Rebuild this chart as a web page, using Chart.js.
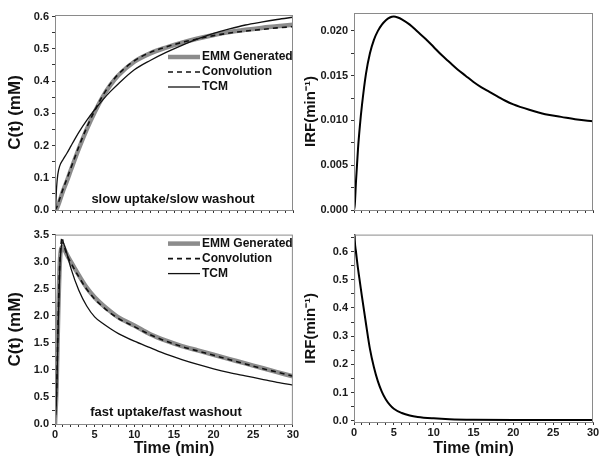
<!DOCTYPE html>
<html>
<head>
<meta charset="utf-8">
<script src="https://cdn.jsdelivr.net/npm/chart.js@4.4.1/dist/chart.umd.min.js"></script>
<style>
  body { margin: 0; background: #fff; }
  #wrap { position: relative; width: 604px; height: 469px; }
  canvas { position: absolute; }
</style>
</head>
<body>
<div id="wrap">
  <canvas id="c1" width="300" height="225" style="left:0;top:0"></canvas>
  <canvas id="c2" width="304" height="225" style="left:300px;top:0"></canvas>
  <canvas id="c3" width="300" height="244" style="left:0;top:225px"></canvas>
  <canvas id="c4" width="304" height="244" style="left:300px;top:225px"></canvas>
</div>
<script>
// slow uptake / slow washout
const tSlow = [0, 0.25, 0.5, 1, 1.5, 2, 3, 4, 5, 6, 7, 8, 10, 12, 14, 16, 18, 20, 22, 24, 26, 28, 30];
const emmSlow = [0, 0.006, 0.022, 0.058, 0.09, 0.124, 0.19, 0.25, 0.303, 0.35, 0.388, 0.418, 0.46, 0.486, 0.504, 0.519, 0.532, 0.543, 0.552, 0.559, 0.565, 0.57, 0.575];
const convSlow = [0, 0.01, 0.028, 0.064, 0.097, 0.13, 0.196, 0.256, 0.308, 0.354, 0.392, 0.422, 0.463, 0.489, 0.506, 0.52, 0.531, 0.541, 0.549, 0.555, 0.56, 0.565, 0.569];
const tTcmSlow = [0, 0.1, 0.2, 0.35, 0.6, 1, 1.5, 2, 2.5, 3, 4, 5, 6, 7, 8, 10, 12, 14, 16, 18, 20, 22, 24, 26, 28, 30];
const tcmSlow = [0, 0.02, 0.07, 0.11, 0.137, 0.156, 0.176, 0.198, 0.22, 0.241, 0.278, 0.311, 0.341, 0.368, 0.392, 0.435, 0.464, 0.489, 0.511, 0.531, 0.548, 0.562, 0.574, 0.583, 0.591, 0.598];
const tIrfSlow = [0, 0.1, 0.25, 0.5, 0.75, 1, 1.5, 2, 2.5, 3, 3.5, 4, 4.5, 5, 5.5, 6, 7, 8, 9, 10, 11, 12, 13, 14, 15, 16, 17, 18, 19, 20, 22, 24, 26, 28, 30];
const irfSlow = [0, 0.0006, 0.0032, 0.0068, 0.0095, 0.0117, 0.0152, 0.0175, 0.019, 0.02, 0.0207, 0.0212, 0.0215, 0.0216, 0.0215, 0.0213, 0.0207, 0.0199, 0.0191, 0.0182, 0.0173, 0.0165, 0.0157, 0.015, 0.0143, 0.0137, 0.0132, 0.0127, 0.0122, 0.0118, 0.0112, 0.0107, 0.0104, 0.0101, 0.0099];

// fast uptake / fast washout
const tFast = [0, 0.2, 0.4, 0.6, 0.8, 1, 1.2, 1.5, 2, 3, 4, 5, 6, 7, 8, 10, 12, 14, 16, 18, 20, 22, 24, 26, 28, 30];
const emmFast = [0, 0.7, 2.0, 2.95, 3.25, 3.27, 3.22, 3.13, 3.0, 2.75, 2.52, 2.34, 2.2, 2.08, 1.97, 1.82, 1.66, 1.54, 1.44, 1.36, 1.28, 1.2, 1.12, 1.04, 0.96, 0.88];
const tConvFast = [0, 0.2, 0.4, 0.6, 0.8, 0.9, 1, 1.2, 1.5, 2, 3, 4, 5, 6, 7, 8, 10, 12, 14, 16, 18, 20, 22, 24, 26, 28, 30];
const convFast = [0, 0.6, 1.95, 2.95, 3.38, 3.45, 3.38, 3.26, 3.13, 2.98, 2.72, 2.49, 2.31, 2.17, 2.05, 1.95, 1.8, 1.65, 1.53, 1.43, 1.35, 1.27, 1.19, 1.11, 1.03, 0.96, 0.885];
const tcmFast = [0, 0.5, 1.8, 2.85, 3.28, 3.35, 3.3, 3.15, 2.88, 2.47, 2.18, 1.98, 1.86, 1.76, 1.67, 1.53, 1.41, 1.29, 1.19, 1.1, 1.02, 0.95, 0.89, 0.83, 0.77, 0.72];
const tIrfFast = [0, 0.02, 0.1, 0.25, 0.5, 0.75, 1, 1.5, 2, 2.5, 3, 3.5, 4, 4.5, 5, 6, 7, 8, 10, 12, 15, 20, 25, 30];
const irfFast = [0, 0.72, 0.64, 0.6, 0.54, 0.49, 0.44, 0.345, 0.255, 0.19, 0.14, 0.103, 0.076, 0.057, 0.043, 0.028, 0.019, 0.014, 0.009, 0.006, 0.004, 0.003, 0.003, 0.003];

const legendNames = ['EMM Generated', 'Convolution', 'TCM'];

Chart.defaults.font.family = '"Liberation Sans", Arial, sans-serif';
Chart.defaults.color = '#1a1a1a';
Chart.defaults.animation = false;

function pts(ts, ys) {
  return ts.map((t, i) => ({ x: t, y: ys[i] }));
}

const decor = {
  id: 'decor',
  afterDraw(chart, args, o) {
    const { ctx, chartArea: a } = chart;
    ctx.save();
    ctx.strokeStyle = '#8a8a8a';
    ctx.lineWidth = 1;
    ctx.strokeRect(a.left + 0.5, a.top + 0.5, a.right - a.left - 1, a.bottom - a.top);
    ctx.fillStyle = '#111';
    ctx.font = 'bold 12px "Liberation Sans", Arial';
    ctx.textBaseline = 'middle';
    if (o.legendTop != null) {
      chart.data.datasets.forEach((ds, i) => {
        const y = a.top + o.legendTop + i * 15;
        ctx.beginPath();
        ctx.strokeStyle = ds.borderColor;
        ctx.lineWidth = ds.borderWidth;
        ctx.setLineDash(ds.borderDash || []);
        ctx.moveTo(a.left + 113, y);
        ctx.lineTo(a.left + 145, y);
        ctx.stroke();
        ctx.setLineDash([]);
        ctx.textAlign = 'left';
        ctx.fillText(ds.label, a.left + 147, y);
      });
    }
    if (o.note) {
      ctx.font = 'bold 13px "Liberation Sans", Arial';
      ctx.textAlign = 'center';
      ctx.fillText(o.note, a.left + o.noteX, a.bottom - o.noteDy);
    }
    ctx.restore();
  }
};

function scales(c) {
  return {
    x: {
      type: 'linear', min: 0, max: 30,
      afterFit: s => { s.height = c.xHeight; },
      border: { color: '#666', width: 1 },
      grid: { drawOnChartArea: false, drawTicks: true, tickLength: 3, color: '#333' },
      ticks: {
        stepSize: 1, autoSkip: false, maxRotation: 0, padding: 1, includeBounds: false,
        display: c.xLabels,
        font: { size: 11, weight: 'bold' },
        callback: v => (v % 5 === 0 ? String(v) : '')
      },
      title: {
        display: c.xLabels, text: 'Time (min)', color: '#111',
        font: { size: 16, weight: 'bold' }, padding: { top: 0, bottom: 11 }
      }
    },
    y: {
      min: c.yMin, max: c.yMax,
      afterFit: s => { s.width = c.yWidth; },
      border: { color: '#666', width: 1 },
      grid: { drawOnChartArea: false, drawTicks: true, tickLength: 3, color: '#333' },
      ticks: {
        stepSize: c.yStep, autoSkip: false, padding: 3, includeBounds: false,
        font: { size: 11, weight: 'bold' },
        callback: v => {
          const r = v / c.yMajor;
          return Math.abs(r - Math.round(r)) < 1e-6 ? Number(v).toFixed(c.yDec) : '';
        }
      },
      title: {
        display: true, text: c.yTitle, color: '#111',
        font: { size: c.yTitleSize, weight: 'bold' }, padding: { top: c.yTitlePad, bottom: 0 }
      }
    }
  };
}

function conc(id, tE, e, tC, cv, tT, tc, c) {
  return new Chart(document.getElementById(id), {
    type: 'line',
    data: {
      datasets: [
        { label: legendNames[0], data: pts(tE, e), borderColor: '#8c8c8c', borderWidth: 4.5, order: 3 },
        { label: legendNames[1], data: pts(tC, cv), borderColor: '#111', borderWidth: 1.6, borderDash: [5, 4], order: 2 },
        { label: legendNames[2], data: pts(tT, tc), borderColor: '#111', borderWidth: 1.3, order: 1 }
      ]
    },
    options: {
      responsive: false,
      parsing: true,
      elements: { point: { radius: 0 }, line: { cubicInterpolationMode: 'monotone', fill: false } },
      layout: { padding: { top: c.padTop, right: c.padRight, left: 0, bottom: 0 } },
      plugins: { legend: { display: false }, tooltip: { enabled: false }, decor: { legendTop: c.legendTop, note: c.note, noteX: c.noteX, noteDy: c.noteDy } },
      scales: scales(c)
    },
    plugins: [decor]
  });
}

function irf(id, ts, ys, c) {
  return new Chart(document.getElementById(id), {
    type: 'line',
    data: {
      datasets: [{ label: 'IRF', data: pts(ts, ys), borderColor: '#000', borderWidth: 2 }]
    },
    options: {
      responsive: false,
      elements: { point: { radius: 0 }, line: { cubicInterpolationMode: 'monotone', fill: false } },
      layout: { padding: { top: c.padTop, right: c.padRight, left: 0, bottom: 0 } },
      plugins: { legend: { display: false }, tooltip: { enabled: false }, decor: {} },
      scales: scales(c)
    },
    plugins: [decor]
  });
}

conc('c1', tSlow, emmSlow, tSlow, convSlow, tTcmSlow, tcmSlow, {
  xLabels: false, xHeight: 15, yWidth: 55, padTop: 15, padRight: 7,
  yMin: 0, yMax: 0.605, yStep: 0.05, yMajor: 0.1, yDec: 1,
  yTitle: 'C(t) (mM)', yTitleSize: 17, yTitlePad: 5,
  legendTop: 42, note: 'slow uptake/slow washout', noteX: 118, noteDy: 11
});

irf('c2', tIrfSlow, irfSlow, {
  xLabels: false, xHeight: 15, yWidth: 54, padTop: 13, padRight: 11,
  yMin: 0, yMax: 0.022, yStep: 0.0025, yMajor: 0.005, yDec: 3,
  yTitle: 'IRF(min\u207B\u00B9)', yTitleSize: 15, yTitlePad: 2
});

conc('c3', tFast, emmFast, tConvFast, convFast, tFast, tcmFast, {
  xLabels: true, xHeight: 45, yWidth: 55, padTop: 3, padRight: 7,
  yMin: 0, yMax: 3.5, yStep: 0.25, yMajor: 0.5, yDec: 1,
  yTitle: 'C(t) (mM)', yTitleSize: 17, yTitlePad: 5,
  legendTop: 9, note: 'fast uptake/fast washout', noteX: 111, noteDy: 12
});

irf('c4', tIrfFast, irfFast, {
  xLabels: true, xHeight: 47, yWidth: 54, padTop: 3, padRight: 11,
  yMin: -0.004, yMax: 0.66, yStep: 0.05, yMajor: 0.1, yDec: 1,
  yTitle: 'IRF(min\u207B\u00B9)', yTitleSize: 15, yTitlePad: 2
});
</script>
</body>
</html>
